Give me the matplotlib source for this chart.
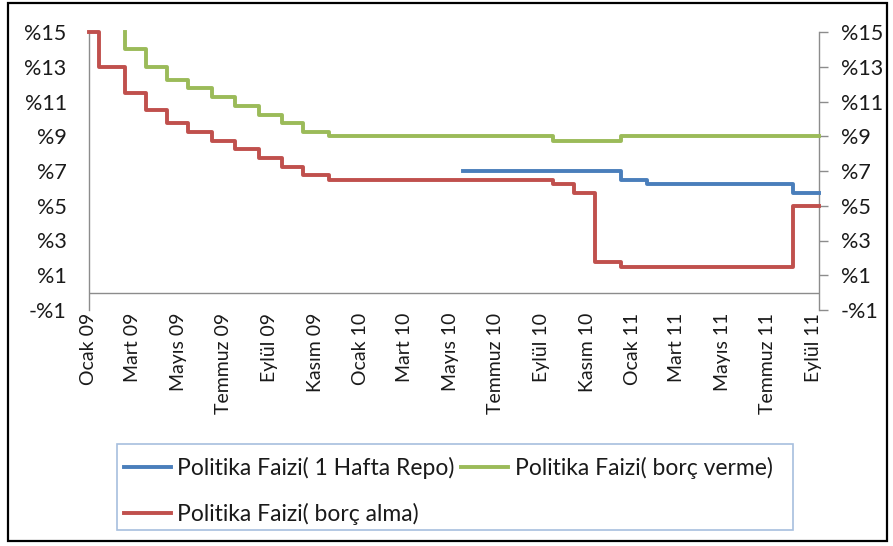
import matplotlib
matplotlib.use("Agg")
import matplotlib.pyplot as plt
from matplotlib.patches import Rectangle
from matplotlib.lines import Line2D
import pandas as pd

plt.rcParams['font.family'] = ['Lato', 'DejaVu Sans']

# ---- data ----
repo_dates = ['2010-05-18', '2010-12-16', '2011-01-20', '2011-08-04', '2011-09-08']
repo_vals = [7.0, 6.5, 6.25, 5.75, 5.75]

lend_dates = ['2009-02-19', '2009-02-19', '2009-03-19', '2009-04-16', '2009-05-14',
              '2009-06-16', '2009-07-16', '2009-08-18', '2009-09-17', '2009-10-15',
              '2009-11-19', '2010-09-16', '2010-12-16', '2011-09-08']
lend_vals = [15.0, 14.0, 13.0, 12.25, 11.75, 11.25, 10.75, 10.25, 9.75, 9.25,
             9.0, 8.75, 9.0, 9.0]

borrow_dates = ['2009-01-01', '2009-01-15', '2009-02-19', '2009-03-19', '2009-04-16',
                '2009-05-14', '2009-06-16', '2009-07-16', '2009-08-18', '2009-09-17',
                '2009-10-15', '2009-11-19', '2010-09-16', '2010-10-14', '2010-11-11',
                '2010-12-16', '2011-08-04', '2011-09-08']
borrow_vals = [15.0, 13.0, 11.5, 10.5, 9.75, 9.25, 8.75, 8.25, 7.75, 7.25, 6.75,
               6.5, 6.25, 5.75, 1.75, 1.5, 5.0, 5.0]

series_names = ['Politika Faizi( 1 Hafta Repo)', 'Politika Faizi( borç verme)',
                'Politika Faizi( borç alma)']

x_tick_dates = ['2009-01-01', '2009-03-01', '2009-05-01', '2009-07-01', '2009-09-01',
                '2009-11-01', '2010-01-01', '2010-03-01', '2010-05-01', '2010-07-01',
                '2010-09-01', '2010-11-01', '2011-01-01', '2011-03-01', '2011-05-01',
                '2011-07-01', '2011-09-01']
x_tick_labels = ['Ocak 09', 'Mart 09', 'Mayıs 09', 'Temmuz 09', 'Eylül 09', 'Kasım 09',
                 'Ocak 10', 'Mart 10', 'Mayıs 10', 'Temmuz 10', 'Eylül 10', 'Kasım 10',
                 'Ocak 11', 'Mart 11', 'Mayıs 11', 'Temmuz 11', 'Eylül 11']
y_ticks = [-1, 1, 3, 5, 7, 9, 11, 13, 15]
y_tick_labels = ['-%1', '%1', '%3', '%5', '%7', '%9', '%11', '%13', '%15']

x_start, x_end = '2009-01-01', '2011-09-08'

# ---- styles ----
c_blue, c_green, c_red = '#4A7EBB', '#9BBB59', '#C0504D'
axis_gray = '#8C8C8C'
lw = 2.8

W, H = 893, 546
fig = plt.figure(figsize=(W / 100, H / 100), dpi=100)
ax = fig.add_axes([88.6 / W, 1 - 310 / H, (819 - 88.6) / W, (310 - 32) / H])

ax.step(pd.to_datetime(repo_dates), repo_vals, where='post', color=c_blue, lw=lw, clip_on=False, zorder=3)
ax.step(pd.to_datetime(lend_dates), lend_vals, where='post', color=c_green, lw=lw, clip_on=False, zorder=3)
ax.step(pd.to_datetime(borrow_dates), borrow_vals, where='post', color=c_red, lw=lw, clip_on=False, zorder=3)

ax.set_xlim(pd.Timestamp(x_start), pd.Timestamp(x_end))
ax.set_ylim(-1, 15)

ax.axhline(0, color=axis_gray, lw=1.0, zorder=1)

for s in ['top', 'bottom']:
    ax.spines[s].set_visible(False)
for s in ['left', 'right']:
    ax.spines[s].set_color(axis_gray)
    ax.spines[s].set_linewidth(1.0)

ax.set_yticks(y_ticks)
ax.set_yticklabels(y_tick_labels)
ax.yaxis.set_tick_params(left=False, right=True, labelleft=True, labelright=True,
                         length=6.5, width=1.0, color=axis_gray, pad=9.3,
                         labelsize=15.5, labelcolor='#1a1a1a', direction='out')

ax.set_xticks(pd.to_datetime(x_tick_dates))
ax.set_xticklabels(x_tick_labels, rotation=90)
ax.xaxis.set_tick_params(length=0, pad=2, labelsize=14, labelcolor='#1a1a1a')

# ---- legend (column-wise fill: blue, red | green) ----
handles = [Line2D([], [], color=c_blue, lw=lw),
           Line2D([], [], color=c_red, lw=lw),
           Line2D([], [], color=c_green, lw=lw)]
labels = [series_names[0], series_names[2], series_names[1]]
leg = fig.legend(handles, labels, ncol=2, frameon=False,
                 loc='upper left', bbox_to_anchor=(124 / W, 1 - 457 / H),
                 borderpad=0, borderaxespad=0, fontsize=16.5,
                 handlelength=2.05, handletextpad=0.27, columnspacing=0.3,
                 labelspacing=1.05)
for t in leg.get_texts():
    t.set_color('#1a1a1a')

fig.patches.append(Rectangle((117 / W, 1 - 530 / H), 676 / W, 86 / H,
                             transform=fig.transFigure, fill=False,
                             ec='#A7BFDE', lw=1.2))
fig.patches.append(Rectangle((8 / W, 1 - 541 / H), 879 / W, 538 / H,
                             transform=fig.transFigure, fill=False,
                             ec='black', lw=1.6))

fig.savefig('out.png', dpi=100)
